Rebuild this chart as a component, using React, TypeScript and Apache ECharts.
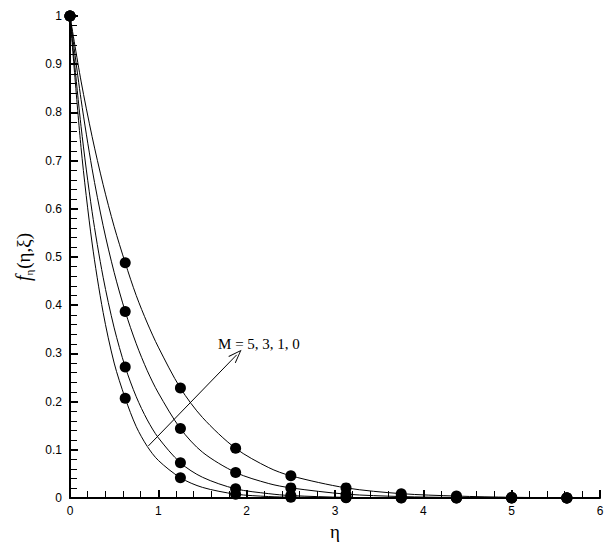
import React, { useEffect, useRef } from "react";
import * as echarts from "echarts";

// eta positions of the curve readings
const etaLine = [0, 0.125, 0.25, 0.375, 0.5, 0.625, 0.75, 0.875, 1.0, 1.25, 1.5, 1.875, 2.25, 2.5, 3.125, 3.75, 4.375, 5, 5.625, 6];
// f_eta readings for each curve (M = 0, 1, 3, 5)
const curveM0 = [1, 0.865, 0.75, 0.65, 0.563, 0.488, 0.42, 0.363, 0.313, 0.228, 0.167, 0.103, 0.063, 0.046, 0.021, 0.009, 0.004, 0.0015, 0.0005, 0.0002];
const curveM1 = [1, 0.827, 0.683, 0.565, 0.468, 0.387, 0.32, 0.264, 0.218, 0.144, 0.095, 0.053, 0.03, 0.021, 0.008, 0.003, 0.001, 0.0004, 0.0001, 0];
const curveM3 = [1, 0.771, 0.594, 0.458, 0.353, 0.272, 0.21, 0.162, 0.125, 0.073, 0.043, 0.019, 0.009, 0.005, 0.0013, 0.0003, 0.0001, 0, 0, 0];
const curveM5 = [1, 0.727, 0.529, 0.385, 0.28, 0.207, 0.148, 0.107, 0.078, 0.042, 0.022, 0.008, 0.003, 0.0017, 0.0003, 0.0001, 0, 0, 0, 0];

// marker positions (symbols)
const etaMarks = [0, 0.625, 1.25, 1.875, 2.5, 3.125, 3.75, 4.375, 5, 5.625];
const marksM0 = [1, 0.488, 0.228, 0.103, 0.046, 0.021, 0.009, 0.004, 0.0015, 0.0005];
const marksM1 = [1, 0.387, 0.144, 0.053, 0.021, 0.008, 0.003, 0.001, 0.0004, 0.0001];
const marksM3 = [1, 0.272, 0.073, 0.019, 0.005, 0.0013, 0.0003, 0.0001, 0, 0];
const marksM5 = [1, 0.207, 0.042, 0.008, 0.0017, 0.0003, 0.0001, 0, 0, 0];

const xTicks = [0, 1, 2, 3, 4, 5, 6];
const yTicks = [0, 0.1, 0.2, 0.3, 0.4, 0.5, 0.6, 0.7, 0.8, 0.9, 1];

// annotation
const arrowStart = [0.887, 0.108];
const arrowEnd = [1.887, 0.297];
const labelPos = [1.676, 0.32];
const labelText = "M = 5, 3, 1, 0";

const pairs = (xs: number[], ys: number[]) => xs.map((x, i) => [x, ys[i]]);

export default function App() {
  const ref = useRef<HTMLDivElement>(null);
  useEffect(() => {
    if (!ref.current) return;
    const chart = echarts.init(ref.current, undefined, { renderer: "svg" });
    const lineSeries = [curveM0, curveM1, curveM3, curveM5].map((c) => ({
      type: "line",
      data: pairs(etaLine, c),
      showSymbol: false,
      smooth: 0.3,
      lineStyle: { color: "#000", width: 1 },
      z: 2,
    }));
    const markSeries = [marksM0, marksM1, marksM3, marksM5].map((m) => ({
      type: "scatter",
      data: pairs(etaMarks, m),
      symbol: "circle",
      symbolSize: 11,
      itemStyle: { color: "#000", opacity: 1 },
      z: 3,
    }));
    const annotation = {
      type: "line",
      data: [],
      silent: true,
      markLine: {
        silent: true,
        symbol: ["none", "path://M0,0 L-6,14 L-5,14.5 L0,2.5 L5,14.5 L6,14 Z"],
        symbolSize: [10, 14],
        lineStyle: { color: "#000", width: 1, type: "solid" },
        label: { show: false },
        data: [[{ coord: arrowStart }, { coord: arrowEnd }]],
      },
      markPoint: {
        silent: true,
        symbol: "circle",
        symbolSize: 0,
        label: {
          show: true,
          formatter: labelText,
          position: "right",
          distance: 0,
          color: "#000",
          fontFamily: "Liberation Serif",
          fontSize: 15,
        },
        data: [{ coord: labelPos }],
      },
    };
    chart.setOption({
      animation: false,
      backgroundColor: "#fff",
      grid: { left: 70, right: 14, top: 16, bottom: 44, outerBoundsMode: "none", containLabel: false },
      xAxis: {
        type: "value",
        min: xTicks[0],
        max: xTicks[xTicks.length - 1],
        interval: 1,
        name: "η",
        nameLocation: "middle",
        nameGap: 17,
        nameTextStyle: { fontFamily: "Liberation Serif", fontSize: 19, color: "#000" },
        axisLine: { onZero: false, lineStyle: { color: "#000", width: 2 } },
        axisTick: { inside: true, length: 8, lineStyle: { color: "#000", width: 2 } },
        minorTick: { show: true, splitNumber: 5, length: 7, lineStyle: { color: "#000", width: 1 } },
        axisLabel: { color: "#000", fontFamily: "Liberation Sans", fontSize: 12, margin: 7 },
        splitLine: { show: false },
      },
      yAxis: {
        type: "value",
        min: yTicks[0],
        max: yTicks[yTicks.length - 1],
        interval: 0.1,
        name: "{i|f}{s|η}{n|(η,ξ)}",
        nameLocation: "middle",
        nameGap: 34,
        nameRotate: 90,
        nameTextStyle: {
          color: "#000",
          rich: {
            i: { fontFamily: "Liberation Serif", fontStyle: "italic", fontSize: 20, lineHeight: 22, color: "#000" },
            s: { fontFamily: "Liberation Serif", fontSize: 11, lineHeight: 22, verticalAlign: "bottom", padding: [10, 1, 0, 0], color: "#000" },
            n: { fontFamily: "Liberation Serif", fontSize: 19, lineHeight: 22, color: "#000" },
          },
        },
        axisLine: { onZero: false, lineStyle: { color: "#000", width: 2 } },
        axisTick: { inside: true, length: 8, lineStyle: { color: "#000", width: 2 } },
        minorTick: { show: true, splitNumber: 5, length: 7, lineStyle: { color: "#000", width: 1 } },
        axisLabel: { color: "#000", fontFamily: "Liberation Sans", fontSize: 12, margin: 8 },
        splitLine: { show: false },
      },
      series: [...lineSeries, ...markSeries, annotation],
    });
    return () => chart.dispose();
  }, []);
  return (
    <div
      ref={ref}
      style={{ position: "absolute", left: 0, top: 0, width: 614, height: 542, background: "#fff" }}
    />
  );
}
